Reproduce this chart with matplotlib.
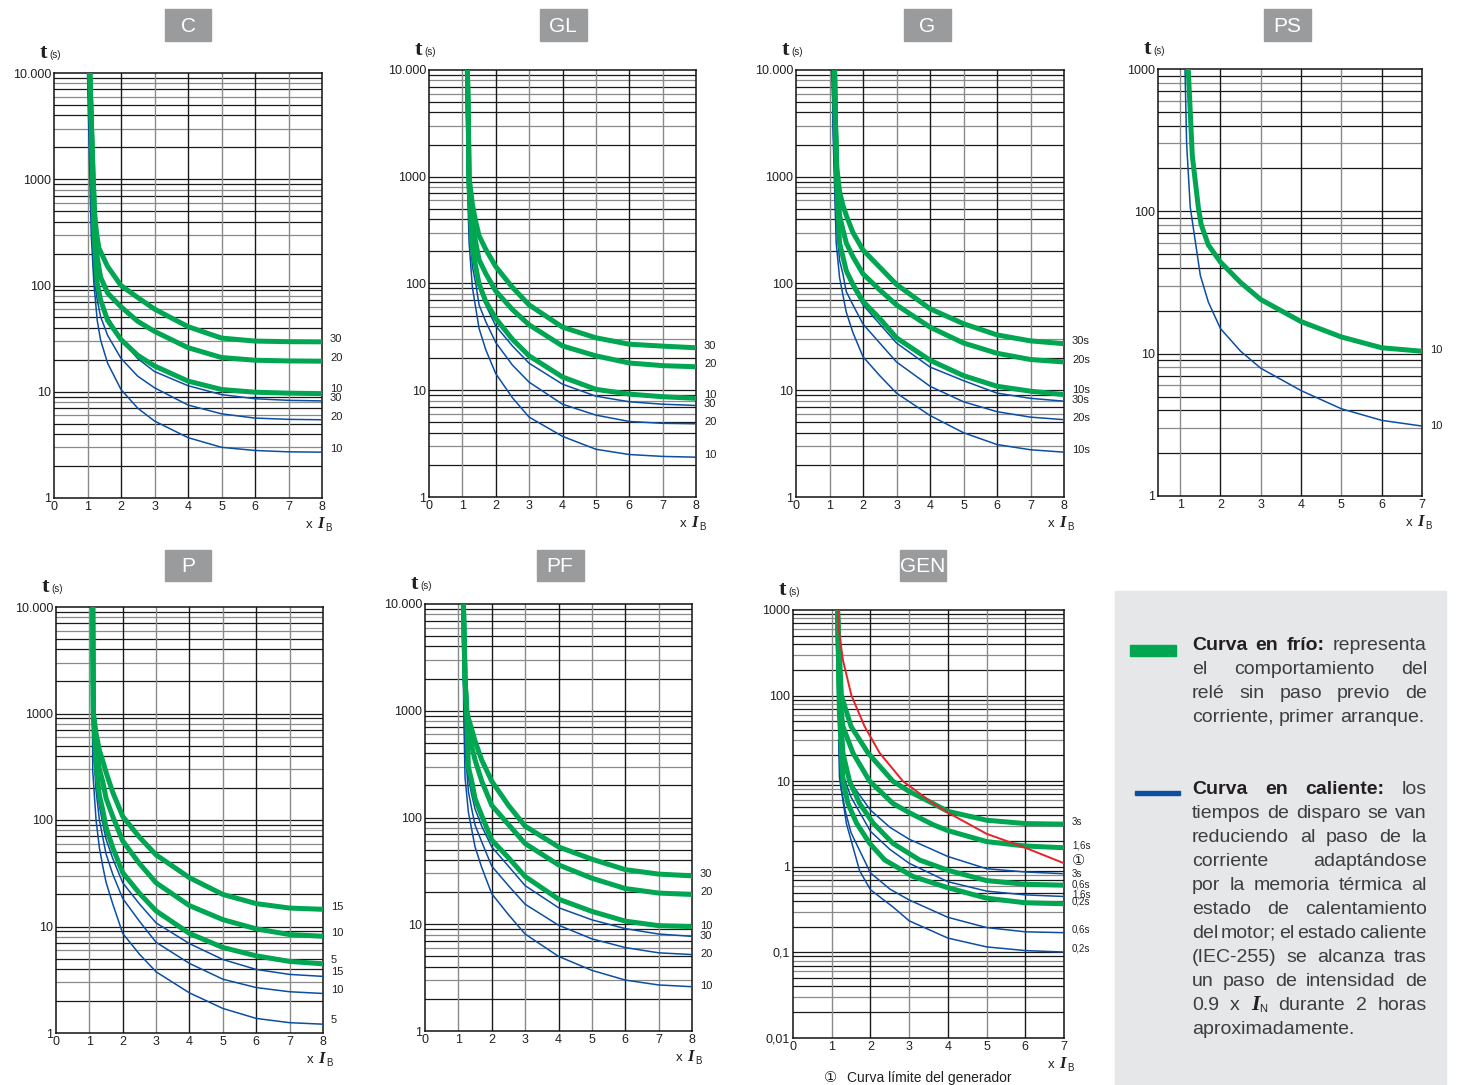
import numpy as np
import matplotlib.pyplot as plt
from matplotlib.patches import Rectangle
from matplotlib.ticker import NullLocator

W, H = 1457, 1085
GREEN = '#00a651'
BLUE = '#0b4ea2'
RED = '#e4232a'
BOX = '#9a9b9d'
FONT = 'Liberation Sans'
plt.rcParams['font.family'] = [FONT, 'DejaVu Sans']

# ---------------- data (x = multiple of IB, t in s) ----------------
# C
c_cold_30_x = [1.07, 1.12, 1.17, 1.21, 1.27, 1.34, 1.6, 2, 2.5, 3, 4, 5, 6, 7, 8]
c_cold_30_t = [10000, 3000, 1000, 480, 310, 225, 151, 100, 77, 60, 41, 32, 30, 29.6, 29.5]
c_cold_20_x = [1.07, 1.12, 1.17, 1.22, 1.29, 1.39, 1.6, 2, 2.5, 3, 4, 5, 6, 7, 8]
c_cold_20_t = [10000, 3000, 1000, 400, 185, 120, 85, 63, 46, 37, 26, 21, 19.8, 19.5, 19.4]
c_cold_10_x = [1.07, 1.12, 1.15, 1.19, 1.24, 1.29, 1.39, 1.6, 2, 2.5, 3, 4, 5, 6, 7, 8]
c_cold_10_t = [10000, 3000, 1000, 355, 175, 105, 73, 47, 31, 22, 17.5, 12.6, 10.5, 9.9, 9.7, 9.6]
c_hot_x = [1.02, 1.06, 1.12, 1.19, 1.29, 1.39, 1.6, 2, 2.5, 3, 4, 5, 6, 7, 8]
c_hot_30_t = [10000, 3000, 700, 215, 105, 76, 51, 31, 20.5, 15.5, 11.4, 9.4, 8.6, 8.3, 8.2]
c_hot_20_t = [10000, 2500, 500, 128, 73, 51, 34, 20.6, 14, 10.9, 7.5, 6.2, 5.65, 5.5, 5.45]
c_hot_10_x = [1.0, 1.05, 1.11, 1.19, 1.29, 1.39, 1.6, 2, 2.5, 3, 4, 5, 6, 7, 8]
c_hot_10_t = [10000, 2000, 310, 105, 47, 30.7, 18.6, 10.5, 7.0, 5.3, 3.7, 3.0, 2.8, 2.72, 2.7]

# GL
gl_cold_x = [1.15, 1.18, 1.2, 1.3, 1.4, 1.5, 1.7, 2, 2.5, 3, 4, 5, 6, 7, 8]
gl_cold_30_t = [10000, 3000, 1000, 550, 380, 280, 209, 144, 92, 63, 39, 31, 27, 25.9, 25]
gl_cold_20_t = [10000, 3000, 900, 350, 243, 167, 124, 85, 57, 41, 26, 21, 18, 17, 16.6]
gl_cold_10_t = [10000, 3000, 800, 210, 144, 99, 68, 47, 30, 21, 13.3, 10.2, 9.2, 8.7, 8.4]
gl_hot_x = [1.12, 1.15, 1.2, 1.3, 1.4, 1.5, 1.7, 2, 2.5, 3, 4, 5, 6, 7, 8]
gl_hot_30_t = [6500, 2000, 500, 210, 134, 92, 63, 40, 26, 17.9, 11.4, 8.8, 7.8, 7.4, 7.2]
gl_hot_20_t = [6500, 1500, 400, 144, 100, 63, 44, 28, 17.2, 11.9, 7.4, 5.85, 5.1, 4.9, 4.85]
gl_hot_10_t = [6500, 1000, 245, 92, 59, 38, 24, 14.3, 8.5, 5.6, 3.7, 2.8, 2.5, 2.4, 2.36]

# G
g_cold_x = [1.15, 1.18, 1.22, 1.3, 1.4, 1.5, 1.7, 2, 2.5, 3, 4, 5, 6, 7, 8]
g_cold_30_t = [10000, 3000, 1200, 730, 540, 435, 300, 206, 142, 98, 58, 42, 33, 29, 27.3]
g_cold_20_t = [10000, 3000, 1000, 435, 320, 240, 178, 123, 87, 63, 39, 27.7, 22.2, 19.4, 18.4]
g_cold_10_t = [10000, 3000, 800, 240, 178, 132, 98, 68, 47, 31, 19.1, 13.7, 10.9, 9.8, 9.1]
g_hot_x = [1.08, 1.12, 1.2, 1.3, 1.4, 1.5, 1.7, 2, 2.5, 3, 4, 5, 6, 7, 8]
g_hot_30_t = [10000, 2500, 600, 240, 178, 123, 91, 63, 41.7, 27.7, 16.5, 12.3, 9.4, 8.4, 7.9]
g_hot_20_t = [10000, 2200, 400, 165, 123, 84, 63, 41.7, 27.7, 18.4, 10.9, 7.8, 6.3, 5.6, 5.3]
g_hot_10_t = [10000, 1800, 240, 114, 78, 54, 34.6, 20.6, 13.7, 9.4, 5.8, 4.0, 3.1, 2.77, 2.63]

# PS
ps_cold_x = [1.2, 1.25, 1.3, 1.45, 1.52, 1.7, 2, 2.5, 3, 4, 5, 6, 7]
ps_cold_10_t = [1000, 500, 247, 107, 81, 58, 44, 31.6, 24, 16.8, 13.1, 11, 10.4]
ps_hot_x = [1.12, 1.16, 1.25, 1.5, 1.7, 2, 2.5, 3, 4, 5, 6, 7]
ps_hot_10_t = [1000, 300, 107, 35.5, 23, 15, 10.4, 7.9, 5.5, 4.1, 3.4, 3.1]

# P
p_cold_x = [1.1, 1.12, 1.2, 1.3, 1.4, 1.5, 1.7, 2, 2.5, 3, 4, 5, 6, 7, 8]
p_cold_15_t = [10000, 1000, 650, 450, 360, 280, 182, 108, 69, 47, 28.7, 20, 16.4, 14.9, 14.5]
p_cold_10_t = [10000, 1000, 500, 300, 230, 160, 108, 63.5, 39, 25.7, 15.7, 11.6, 9.5, 8.4, 8.1]
p_cold_5_t = [10000, 1000, 335, 170, 125, 85, 55, 32, 20.5, 14, 8.6, 6.35, 5.3, 4.7, 4.46]
p_hot_x = [1.08, 1.1, 1.2, 1.3, 1.4, 1.5, 1.7, 2, 2.5, 3, 4, 5, 6, 7, 8]
p_hot_15_t = [10000, 800, 250, 135, 93, 66, 43.5, 25.7, 16.3, 10.8, 6.9, 4.9, 3.95, 3.55, 3.4]
p_hot_10_t = [10000, 600, 190, 100, 69, 48, 31, 18.3, 11.2, 7.1, 4.5, 3.2, 2.67, 2.44, 2.35]
p_hot_5_t = [10000, 290, 100, 55, 37, 26, 16.3, 8.6, 5.5, 3.75, 2.38, 1.7, 1.37, 1.25, 1.21]

# PF
pf_cold_x = [1.15, 1.2, 1.25, 1.3, 1.4, 1.5, 1.7, 2, 2.5, 3, 4, 5, 6, 7, 8]
pf_cold_30_t = [10000, 2000, 1000, 850, 670, 520, 345, 219, 130, 83, 53, 40.7, 32.5, 29.5, 28.4]
pf_cold_20_t = [10000, 2000, 1000, 650, 465, 345, 219, 130, 86, 57, 36, 27, 21.6, 19.6, 19]
pf_cold_10_t = [10000, 2000, 900, 297, 219, 150, 104, 61.5, 42, 28, 17.2, 13.2, 10.7, 9.7, 9.5]
pf_hot_x = [1.13, 1.16, 1.2, 1.3, 1.4, 1.5, 1.7, 2, 2.5, 3, 4, 5, 6, 7, 8]
pf_hot_30_t = [10000, 2000, 600, 236, 163, 120, 83, 53, 35, 23, 14.3, 11, 9.1, 8.1, 7.7]
pf_hot_20_t = [10000, 1500, 450, 175, 120, 85, 59, 35, 23, 15.4, 9.8, 7.3, 6.05, 5.4, 5.2]
pf_hot_10_t = [10000, 1000, 236, 112, 77, 53, 34, 19.3, 12.3, 8.1, 5.0, 3.7, 3.0, 2.7, 2.6]

# GEN
gen_cold_3_x = [1.15, 1.2, 1.25, 1.5, 1.94, 2.58, 3, 3.45, 4, 5, 6, 7]
gen_cold_3_t = [1000, 300, 100, 43.6, 21.3, 10, 7.6, 6, 4.45, 3.5, 3.2, 3.15]
gen_cold_16_x = [1.15, 1.2, 1.29, 1.55, 1.98, 2.58, 3, 3.62, 4, 5, 6, 7]
gen_cold_16_t = [1000, 100, 43.6, 21.3, 10, 5.5, 4.3, 3.1, 2.65, 1.97, 1.75, 1.67]
gen_cold_06_x = [1.15, 1.2, 1.29, 1.46, 1.72, 2.07, 2.58, 3.27, 4, 5, 6, 7]
gen_cold_06_t = [1000, 100, 21.3, 10, 5.5, 3.24, 1.88, 1.2, 0.91, 0.69, 0.625, 0.61]
gen_cold_02_x = [1.15, 1.2, 1.29, 1.42, 1.64, 1.98, 2.37, 3.1, 4, 5, 6, 7]
gen_cold_02_t = [1000, 60, 10, 5.5, 3.24, 1.88, 1.2, 0.77, 0.57, 0.43, 0.38, 0.37]
gen_hot_x = [1.18, 1.25, 1.35, 1.5, 2, 2.5, 3, 4, 5, 6, 7]
gen_hot_3_t = [30, 20, 14, 9.5, 4.6, 2.9, 2.1, 1.32, 0.95, 0.87, 0.83]
gen_hot_16_t = [30, 15, 10, 6.5, 2.6, 1.6, 1.1, 0.67, 0.52, 0.47, 0.45]
gen_hot_06_t = [30, 8, 4.5, 2.5, 0.85, 0.55, 0.41, 0.257, 0.195, 0.174, 0.17]
gen_hot_02_x = [1.18, 1.2, 1.38, 1.72, 2, 2.58, 3, 4, 5, 6, 7]
gen_hot_02_t = [30, 11, 3.2, 0.9, 0.54, 0.34, 0.234, 0.147, 0.116, 0.105, 0.101]
gen_limit_x = [1.17, 1.18, 1.29, 1.51, 1.85, 2.24, 2.84, 3.62, 4, 5, 6, 7]
gen_limit_t = [1000, 600, 260, 100, 43.6, 21.3, 10, 5.5, 4.3, 2.43, 1.67, 1.1]

ticks_4dec = [1, 10, 100, 1000, 10000]
ticklabels_4dec = ['1', '10', '100', '1000', '10.000']

fig = plt.figure(figsize=(W / 100, H / 100), dpi=100)


def px(x, y):
    return x / W, 1 - y / H


def make_axes(left, top, right, bottom):
    return fig.add_axes([left / W, 1 - bottom / H, (right - left) / W, (bottom - top) / H])


HPAT = {1: '#1a1a1a', 2: '#1a1a1a', 3: '#8a8a8a', 4: '#1a1a1a', 5: '#1a1a1a',
        6: '#8a8a8a', 7: '#1a1a1a', 8: '#8a8a8a', 9: '#1a1a1a'}


def style_axes(ax, xlim, ylim, xticks, yticks, yticklabels):
    ax.set_yscale('log')
    ax.set_xlim(*xlim)
    ax.set_ylim(*ylim)
    d0, d1 = int(round(np.log10(ylim[0]))), int(round(np.log10(ylim[1])))
    for d in range(d0, d1):
        for k in range(1, 10):
            v = k * 10.0 ** d
            if ylim[0] < v < ylim[1]:
                ax.axhline(v, color=HPAT[k], lw=0.9, zorder=1)
    for x in xticks:
        if xlim[0] < x < xlim[1]:
            ax.axvline(x, color='#8a8a8a' if x % 2 else '#1a1a1a', lw=1.0, zorder=1)
    ax.set_yticks(yticks)
    ax.set_yticklabels(yticklabels)
    ax.yaxis.set_minor_locator(NullLocator())
    ax.set_xticks(xticks)
    ax.set_xticklabels([str(x) for x in xticks])
    ax.tick_params(length=0, labelsize=9, pad=2, colors='#231f20')
    for s in ax.spines.values():
        s.set_color('#111111')
        s.set_linewidth(1.1)


def cold(ax, x, t):
    ax.plot(x, t, color=GREEN, lw=3.6, zorder=4, solid_capstyle='butt', solid_joinstyle='round')


def hot(ax, x, t):
    ax.plot(x, t, color=BLUE, lw=1.1, zorder=3, solid_joinstyle='round')


def end_label(ax, text, t, dy=2, size=8, family=None):
    kw = {}
    if family:
        kw['family'] = family
    ax.annotate(text, xy=(1, t), xycoords=('axes fraction', 'data'), xytext=(8, dy),
                textcoords='offset pixels', va='center', ha='left', fontsize=size,
                color='#231f20', **kw)


def decorate(ax, title, cx, cy, bw=47):
    fig.patches.append(Rectangle(px(cx - bw / 2, cy + 15.5), bw / W, 31 / H,
                                 transform=fig.transFigure, color=BOX, zorder=0))
    fig.text(*px(cx, cy + 1), title, color='white', fontsize=15, ha='center', va='center')
    ax.annotate('t', xy=(0, 1), xycoords='axes fraction', xytext=(-14, 15),
                textcoords='offset pixels', fontsize=16, fontweight='bold',
                family='Liberation Serif', ha='left', va='baseline', color='#231f20')
    ax.annotate('(s)', xy=(0, 1), xycoords='axes fraction', xytext=(-5, 15),
                textcoords='offset pixels', fontsize=7, ha='left', va='baseline', color='#231f20')
    ax.annotate('x', xy=(1, 0), xycoords='axes fraction', xytext=(-16, -30),
                textcoords='offset pixels', fontsize=9.5, ha='left', va='baseline', color='#231f20')
    ax.annotate('I', xy=(1, 0), xycoords='axes fraction', xytext=(-5, -30),
                textcoords='offset pixels', fontsize=12, fontweight='bold', fontstyle='italic',
                family='Liberation Serif', ha='left', va='baseline', color='#231f20')
    ax.annotate('B', xy=(1, 0), xycoords='axes fraction', xytext=(3, -33),
                textcoords='offset pixels', fontsize=7, ha='left', va='baseline', color='#231f20')


# ---------------- C ----------------
ax = make_axes(54, 73, 322, 498)
style_axes(ax, (0, 8), (1, 10000), list(range(9)), ticks_4dec, ticklabels_4dec)
for x, t in [(c_hot_x, c_hot_30_t), (c_hot_x, c_hot_20_t), (c_hot_10_x, c_hot_10_t)]:
    hot(ax, x, t)
for x, t in [(c_cold_30_x, c_cold_30_t), (c_cold_20_x, c_cold_20_t), (c_cold_10_x, c_cold_10_t)]:
    cold(ax, x, t)
for txt, t, dy in [('30', c_cold_30_t[-1], 3), ('20', c_cold_20_t[-1], 3), ('10', c_cold_10_t[-1], 5),
                   ('30', c_hot_30_t[-1], 3), ('20', c_hot_20_t[-1], 3), ('10', c_hot_10_t[-1], 3)]:
    end_label(ax, txt, t, dy)
decorate(ax, 'C', 188, 25)

# ---------------- GL ----------------
ax = make_axes(429, 70, 696, 497)
style_axes(ax, (0, 8), (1, 10000), list(range(9)), ticks_4dec, ticklabels_4dec)
for t in [gl_hot_30_t, gl_hot_20_t, gl_hot_10_t]:
    hot(ax, gl_hot_x, t)
for t in [gl_cold_30_t, gl_cold_20_t, gl_cold_10_t]:
    cold(ax, gl_cold_x, t)
for txt, t, dy in [('30', gl_cold_30_t[-1], 2), ('20', gl_cold_20_t[-1], 3), ('10', gl_cold_10_t[-1], 3),
                   ('30', gl_hot_30_t[-1], 1), ('20', gl_hot_20_t[-1], 2), ('10', gl_hot_10_t[-1], 2)]:
    end_label(ax, txt, t, dy)
decorate(ax, 'GL', 563, 25)

# ---------------- G ----------------
ax = make_axes(796, 70, 1064, 497)
style_axes(ax, (0, 8), (1, 10000), list(range(9)), ticks_4dec, ticklabels_4dec)
for t in [g_hot_30_t, g_hot_20_t, g_hot_10_t]:
    hot(ax, g_hot_x, t)
for t in [g_cold_30_t, g_cold_20_t, g_cold_10_t]:
    cold(ax, g_cold_x, t)
for txt, t, dy in [('30s', g_cold_30_t[-1], 3), ('20s', g_cold_20_t[-1], 2), ('10s', g_cold_10_t[-1], 5),
                   ('30s', g_hot_30_t[-1], 1), ('20s', g_hot_20_t[-1], 2), ('10s', g_hot_10_t[-1], 2)]:
    end_label(ax, txt, t, dy)
decorate(ax, 'G', 927, 25)

# ---------------- PS ----------------
ax = make_axes(1158, 69, 1422, 496)
style_axes(ax, (0.45, 7), (1, 1000), list(range(1, 8)), [1, 10, 100, 1000], ['1', '10', '100', '1000'])
hot(ax, ps_hot_x, ps_hot_10_t)
cold(ax, ps_cold_x, ps_cold_10_t)
end_label(ax, '10', ps_cold_10_t[-1], 1)
end_label(ax, '10', ps_hot_10_t[-1], 0)
decorate(ax, 'PS', 1287, 25)

# ---------------- P ----------------
ax = make_axes(56, 607, 323, 1033)
style_axes(ax, (0, 8), (1, 10000), list(range(9)), ticks_4dec, ticklabels_4dec)
for t in [p_hot_15_t, p_hot_10_t, p_hot_5_t]:
    hot(ax, p_hot_x, t)
for t in [p_cold_15_t, p_cold_10_t, p_cold_5_t]:
    cold(ax, p_cold_x, t)
for txt, t, dy in [('15', p_cold_15_t[-1], 2), ('10', p_cold_10_t[-1], 3), ('5', p_cold_5_t[-1], 4),
                   ('15', p_hot_15_t[-1], 4), ('10', p_hot_10_t[-1], 3), ('5', p_hot_5_t[-1], 4)]:
    end_label(ax, txt, t, dy)
decorate(ax, 'P', 188, 565)

# ---------------- PF ----------------
ax = make_axes(425, 604, 692, 1031)
style_axes(ax, (0, 8), (1, 10000), list(range(9)), ticks_4dec, ticklabels_4dec)
for t in [pf_hot_30_t, pf_hot_20_t, pf_hot_10_t]:
    hot(ax, pf_hot_x, t)
for t in [pf_cold_30_t, pf_cold_20_t, pf_cold_10_t]:
    cold(ax, pf_cold_x, t)
for txt, t, dy in [('30', pf_cold_30_t[-1], 2), ('20', pf_cold_20_t[-1], 2), ('10', pf_cold_10_t[-1], 1),
                   ('30', pf_hot_30_t[-1], 0), ('20', pf_hot_20_t[-1], 1), ('10', pf_hot_10_t[-1], 1)]:
    end_label(ax, txt, t, dy)
decorate(ax, 'PF', 560, 565)

# ---------------- GEN ----------------
ax = make_axes(793, 610, 1064, 1038)
style_axes(ax, (0, 7), (0.01, 1000), list(range(8)), [0.01, 0.1, 1, 10, 100, 1000],
           ['0,01', '0,1', '1', '10', '100', '1000'])
for x, t in [(gen_hot_x, gen_hot_3_t), (gen_hot_x, gen_hot_16_t), (gen_hot_x, gen_hot_06_t),
             (gen_hot_02_x, gen_hot_02_t)]:
    hot(ax, x, t)
for x, t in [(gen_cold_3_x, gen_cold_3_t), (gen_cold_16_x, gen_cold_16_t),
             (gen_cold_06_x, gen_cold_06_t), (gen_cold_02_x, gen_cold_02_t)]:
    cold(ax, x, t)
ax.plot(gen_limit_x, gen_limit_t, color=RED, lw=1.4, zorder=5)
for txt, t, dy in [('3s', gen_cold_3_t[-1], 2), ('1,6s', gen_cold_16_t[-1], 2),
                   ('0,6s', gen_cold_06_t[-1], 1), ('0,2s', gen_cold_02_t[-1], 2),
                   ('3s', gen_hot_3_t[-1], 0), ('1,6s', gen_hot_16_t[-1], 2),
                   ('0,6s', gen_hot_06_t[-1], 3), ('0,2s', gen_hot_02_t[-1], 4)]:
    end_label(ax, txt, t, dy, size=7)
end_label(ax, '\u2460', gen_limit_t[-1], 3, size=10.5, family='DejaVu Sans')
decorate(ax, 'GEN', 923, 565, bw=46)
fig.text(*px(824, 1078), '\u2460', family='DejaVu Sans', fontsize=10.5, va='center', ha='left',
         color='#231f20')
fig.text(*px(847, 1078), 'Curva límite del generador', fontsize=10, va='center', ha='left',
         color='#231f20')

# ---------------- legend panel ----------------
fig.patches.append(Rectangle(px(1115, 1085), 331 / W, 494 / H, transform=fig.transFigure,
                             color='#e6e7e8', zorder=0))
fig.patches.append(Rectangle(px(1130, 656), 46 / W, 11 / H, transform=fig.transFigure,
                             color=GREEN, zorder=1))
fig.patches.append(Rectangle(px(1135, 795), 45 / W, 4 / H, transform=fig.transFigure,
                             color=BLUE, zorder=1))

FS = 14
REG = dict(fontsize=FS, color='#3d3d3f')
BLD = dict(fontsize=FS, color='#231f20', fontweight='bold')
IN_I = dict(fontsize=FS + 1.5, color='#231f20', fontweight='bold', fontstyle='italic',
            family='Liberation Serif')
IN_N = dict(fontsize=8, color='#231f20')


def words(s, style=REG):
    return [[(w, style, 0)] for w in s.split()]


para1 = [
    words('Curva en frío:', BLD) + words('representa'),
    words('el comportamiento del'),
    words('relé sin paso previo de'),
    words('corriente, primer arranque.'),
]
para2 = [
    words('Curva en caliente:', BLD) + words('los'),
    words('tiempos de disparo se van'),
    words('reduciendo al paso de la'),
    words('corriente adaptándose'),
    words('por la memoria térmica al'),
    words('estado de calentamiento'),
    words('del motor; el estado caliente'),
    words('(IEC-255) se alcanza tras'),
    words('un paso de intensidad de'),
    words('0.9 x') + [[('I', IN_I, 0), ('N', IN_N, -4)]] + words('durante 2 horas'),
    words('aproximadamente.'),
]

renderer = fig.canvas.get_renderer()
X0, X1 = 1192, 1427
MIN_GAP = 2.5


def draw_para(lines, y0):
    for i, line in enumerate(lines):
        y = y0 + 24 * i
        objs = []
        for word in line:
            pieces = []
            for txt, st, dy in word:
                t = fig.text(0, 0, txt, ha='left', va='center', **st)
                pieces.append([t, t.get_window_extent(renderer).width, dy])
            objs.append(pieces)
        widths = [sum(p[1] for p in pcs) for pcs in objs]
        n = len(objs)
        need = sum(widths) + MIN_GAP * (n - 1)
        if need > X1 - X0:
            k = (X1 - X0 - MIN_GAP * (n - 1)) / sum(widths)
            for pcs in objs:
                for p in pcs:
                    p[0].set_fontsize(p[0].get_fontsize() * k)
                    p[1] = p[0].get_window_extent(renderer).width
            widths = [sum(p[1] for p in pcs) for pcs in objs]
        if i == len(lines) - 1 or n == 1:
            gap = FS * 0.278 * 100 / 72
        else:
            gap = (X1 - X0 - sum(widths)) / (n - 1)
        x = X0
        for pcs, wsum in zip(objs, widths):
            xx = x
            for t, w, dy in pcs:
                t.set_position(px(xx, y - dy))
                xx += w
            x += wsum + gap


draw_para(para1, 645)
draw_para(para2, 789)

fig.savefig('out.png', dpi=100, facecolor='white')
